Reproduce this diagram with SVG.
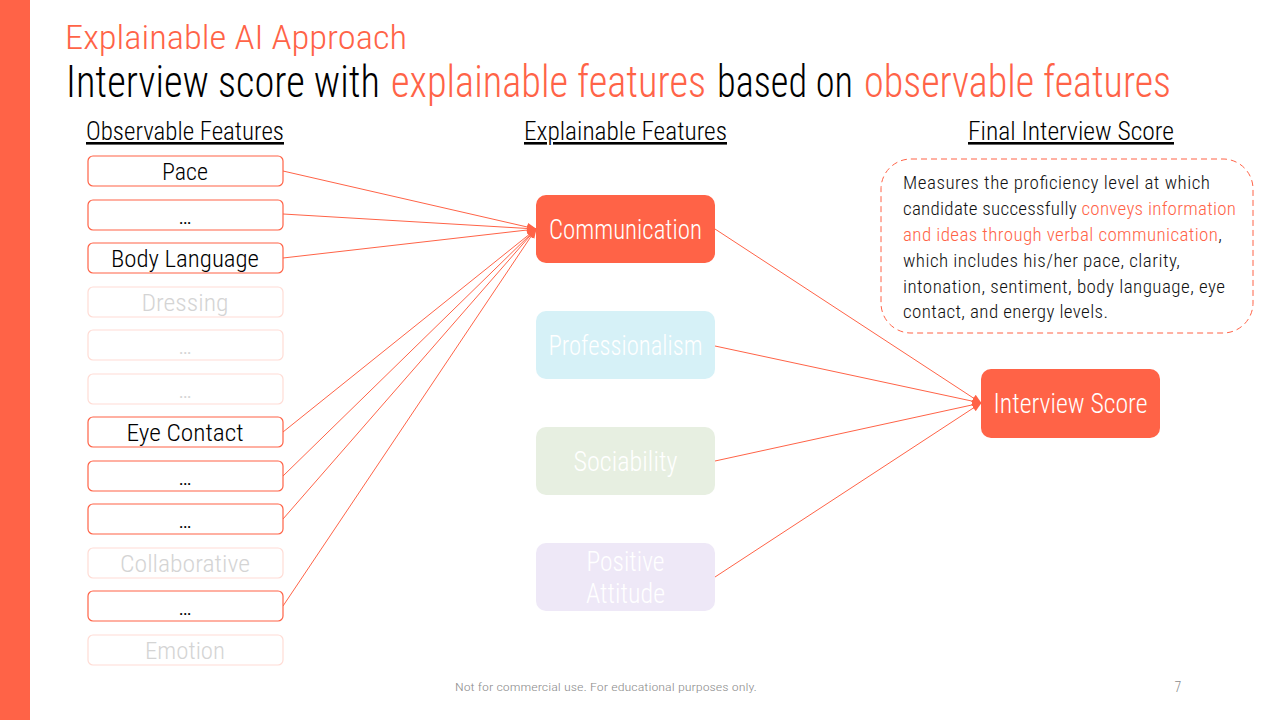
<svg xmlns="http://www.w3.org/2000/svg" width="1280" height="720" viewBox="0 0 1280 720">
<style>
text{font-family:"Liberation Sans Narrow","Roboto Condensed","DejaVu Sans Condensed","Roboto","Liberation Sans",sans-serif;font-weight:300;}
.or{fill:#FF6347;}
.bk{fill:#000;}
.sub{font-size:35px;}
.hd{font-size:26px;fill:#000;text-decoration:underline;}
.obs rect{fill:#fff;stroke:#FF6347;stroke-width:1.2;}
.obs text{font-size:24px;fill:#000;text-anchor:middle;}
.fade rect{fill:#fff;stroke:#FFDCD5;stroke-width:1.2;}
.fade text{font-size:24px;fill:#D4D4D4;text-anchor:middle;}
.mid text{font-size:27px;fill:#fff;text-anchor:middle;}
.desc{font-size:19px;fill:#111;}
.conn line{stroke:#FF6347;stroke-width:1;}
</style>
<defs>
<marker id="arr" markerUnits="userSpaceOnUse" markerWidth="10" markerHeight="10" viewBox="0 0 10 10" refX="9" refY="5" orient="auto">
<path d="M0,1 L10,5 L0,9 Z" fill="#FF6347"/>
</marker>
</defs>
<rect x="0" y="0" width="1280" height="720" fill="#fff"/>
<rect x="0" y="0" width="30" height="720" fill="#FF6347"/>

<g id="title">
<text x="65" y="49" font-size="33" class="or" textLength="342" lengthAdjust="spacingAndGlyphs">Explainable AI Approach</text>
<text transform="translate(66,97) scale(1,1.257)" x="0" y="0" class="sub bk" textLength="314" lengthAdjust="spacingAndGlyphs">Interview score with</text>
<text transform="translate(391,97) scale(1,1.257)" x="0" y="0" class="sub or" textLength="315" lengthAdjust="spacingAndGlyphs">explainable features</text>
<text transform="translate(717,97) scale(1,1.257)" x="0" y="0" class="sub bk" textLength="136" lengthAdjust="spacingAndGlyphs">based on</text>
<text transform="translate(864,97) scale(1,1.257)" x="0" y="0" class="sub or" textLength="307" lengthAdjust="spacingAndGlyphs">observable features</text>
</g>

<g id="headings">
<text x="86" y="140" class="hd" textLength="198" lengthAdjust="spacingAndGlyphs">Observable Features</text>
<text x="524" y="140" class="hd" textLength="203" lengthAdjust="spacingAndGlyphs">Explainable Features</text>
<text x="968" y="140" class="hd" textLength="206" lengthAdjust="spacingAndGlyphs">Final Interview Score</text>
</g>

<g id="connectors" class="conn">
<line x1="283" y1="171" x2="536" y2="229" marker-end="url(#arr)"/>
<line x1="283" y1="214" x2="536" y2="229" marker-end="url(#arr)"/>
<line x1="283" y1="258" x2="536" y2="229" marker-end="url(#arr)"/>
<line x1="283" y1="432" x2="536" y2="229" marker-end="url(#arr)"/>
<line x1="283" y1="476" x2="536" y2="229" marker-end="url(#arr)"/>
<line x1="283" y1="519" x2="536" y2="229" marker-end="url(#arr)"/>
<line x1="283" y1="606" x2="536" y2="229" marker-end="url(#arr)"/>
<line x1="715" y1="229" x2="981" y2="403" marker-end="url(#arr)"/>
<line x1="715" y1="346" x2="981" y2="403" marker-end="url(#arr)"/>
<line x1="715" y1="461" x2="981" y2="403" marker-end="url(#arr)"/>
<line x1="715" y1="577" x2="981" y2="403" marker-end="url(#arr)"/>
</g>

<g id="obs-pace" class="obs"><rect x="88" y="156" width="195" height="30" rx="5"/><text x="185" y="180" textLength="46" lengthAdjust="spacingAndGlyphs">Pace</text></g>
<g id="obs-etc1" class="obs"><rect x="88" y="200" width="195" height="30" rx="5"/><text x="185" y="224">…</text></g>
<g id="obs-body" class="obs"><rect x="88" y="243" width="195" height="30" rx="5"/><text x="185" y="267" textLength="148" lengthAdjust="spacingAndGlyphs">Body Language</text></g>
<g id="obs-dressing" class="fade"><rect x="88" y="287" width="195" height="30" rx="5"/><text x="185" y="311" textLength="87" lengthAdjust="spacingAndGlyphs">Dressing</text></g>
<g id="obs-etc2" class="fade"><rect x="88" y="330" width="195" height="30" rx="5"/><text x="185" y="354">…</text></g>
<g id="obs-etc3" class="fade"><rect x="88" y="374" width="195" height="30" rx="5"/><text x="185" y="398">…</text></g>
<g id="obs-eye" class="obs"><rect x="88" y="417" width="195" height="30" rx="5"/><text x="185" y="441" textLength="117" lengthAdjust="spacingAndGlyphs">Eye Contact</text></g>
<g id="obs-etc4" class="obs"><rect x="88" y="461" width="195" height="30" rx="5"/><text x="185" y="485">…</text></g>
<g id="obs-etc5" class="obs"><rect x="88" y="504" width="195" height="30" rx="5"/><text x="185" y="528">…</text></g>
<g id="obs-collab" class="fade"><rect x="88" y="548" width="195" height="30" rx="5"/><text x="185" y="572" textLength="130" lengthAdjust="spacingAndGlyphs">Collaborative</text></g>
<g id="obs-etc6" class="obs"><rect x="88" y="591" width="195" height="30" rx="5"/><text x="185" y="615">…</text></g>
<g id="obs-emotion" class="fade"><rect x="88" y="635" width="195" height="30" rx="5"/><text x="185" y="659" textLength="80" lengthAdjust="spacingAndGlyphs">Emotion</text></g>

<g id="exp-communication" class="mid"><rect x="536" y="195" width="179" height="68" rx="10" fill="#FF6347"/><text x="625.5" y="239" textLength="153" lengthAdjust="spacingAndGlyphs">Communication</text></g>
<g id="exp-professionalism" class="mid"><rect x="536" y="311" width="179" height="68" rx="10" fill="#D6F1F7"/><text x="625.5" y="355" textLength="154" lengthAdjust="spacingAndGlyphs">Professionalism</text></g>
<g id="exp-sociability" class="mid"><rect x="536" y="427" width="179" height="68" rx="10" fill="#E7EFE1"/><text x="625.5" y="471" textLength="104" lengthAdjust="spacingAndGlyphs">Sociability</text></g>
<g id="exp-positive" class="mid"><rect x="536" y="543" width="179" height="68" rx="10" fill="#EEE8F7"/><text x="625.5" y="571" textLength="78" lengthAdjust="spacingAndGlyphs">Positive</text><text x="625.5" y="603" textLength="79" lengthAdjust="spacingAndGlyphs">Attitude</text></g>

<g id="score" class="mid"><rect x="981" y="369" width="179" height="69" rx="10" fill="#FF6347"/><text x="1070.5" y="413" textLength="154" lengthAdjust="spacingAndGlyphs">Interview Score</text></g>

<g id="description">
<rect x="881" y="159" width="372" height="174" rx="30" fill="#fff" stroke="#FF6347" stroke-width="1" stroke-dasharray="6 4"/>
<text x="903" y="189" class="desc" textLength="307" lengthAdjust="spacing">Measures the proficiency level at which</text>
<text x="903" y="215" class="desc" textLength="333" lengthAdjust="spacing">candidate successfully <tspan class="or">conveys information</tspan></text>
<text x="903" y="241" class="desc" textLength="319" lengthAdjust="spacing"><tspan class="or">and ideas through verbal communication</tspan>,</text>
<text x="903" y="267" class="desc" textLength="277" lengthAdjust="spacing">which includes his/her pace, clarity,</text>
<text x="903" y="293" class="desc" textLength="322" lengthAdjust="spacing">intonation, sentiment, body language, eye</text>
<text x="903" y="318" class="desc" textLength="205" lengthAdjust="spacing">contact, and energy levels.</text>
</g>

<g id="footer">
<text x="606" y="691" font-size="11.5" fill="#8C8C8C" text-anchor="middle" textLength="302" lengthAdjust="spacingAndGlyphs">Not for commercial use. For educational purposes only.</text>
<text x="1178" y="692" font-size="14" fill="#8C8C8C" text-anchor="middle">7</text>
</g>
</svg>
